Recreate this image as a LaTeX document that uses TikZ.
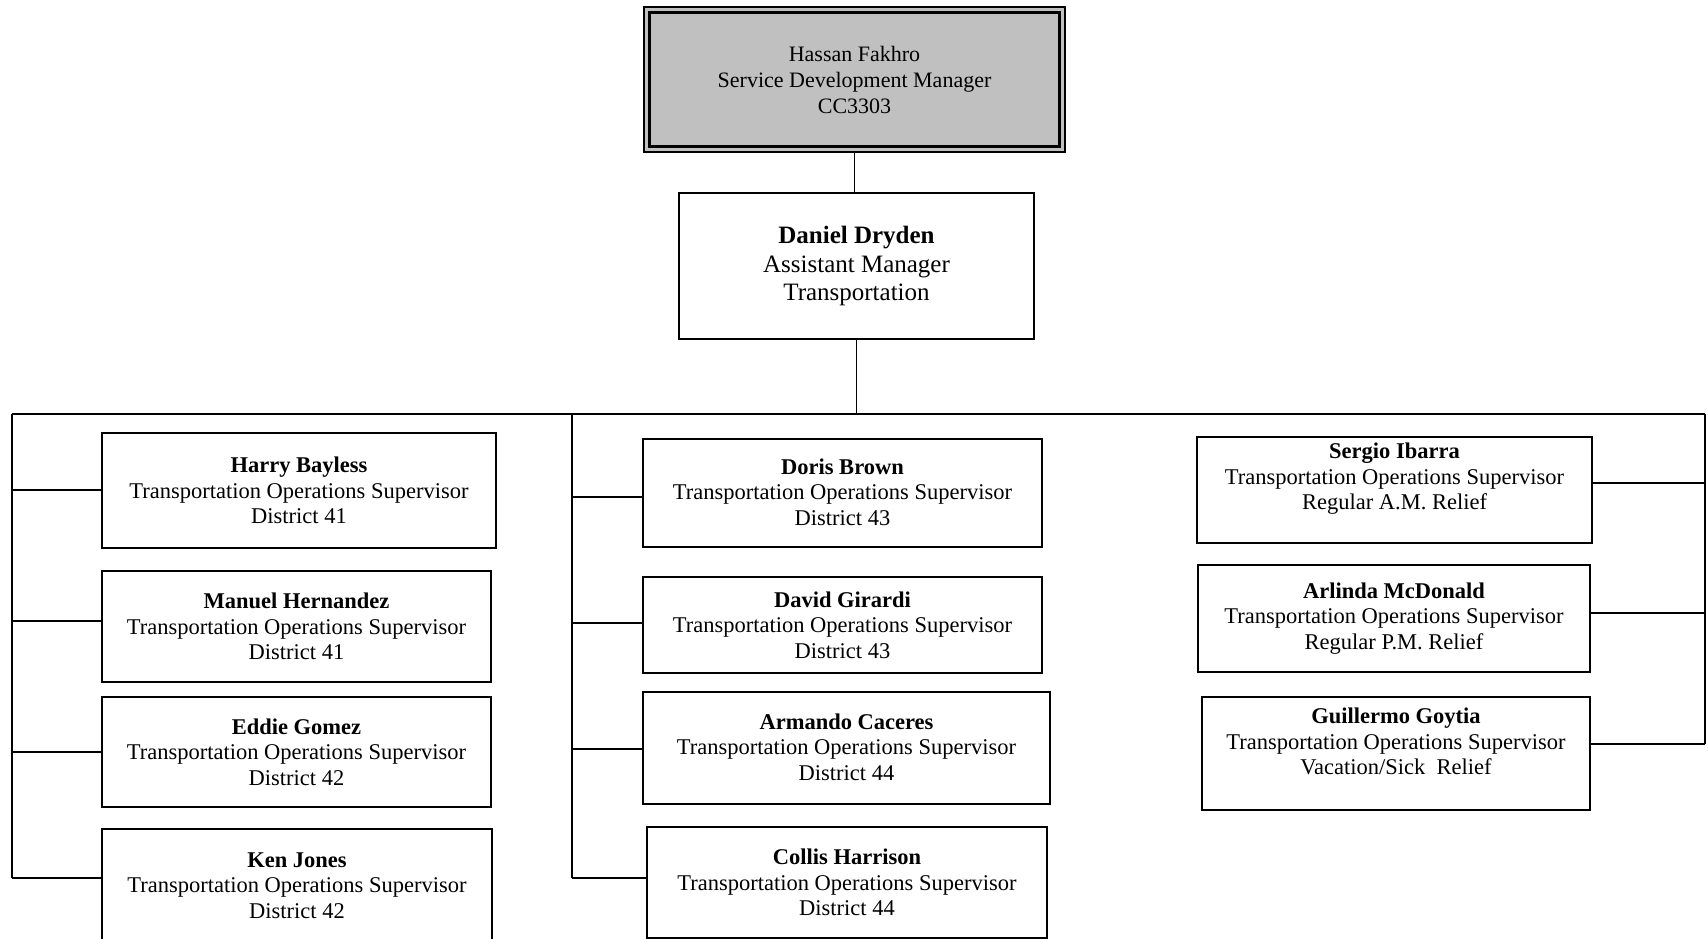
\documentclass[tikz,border=0pt]{standalone}
\usepackage{fontspec}
\setmainfont{Liberation Serif}
\usetikzlibrary{calc}
\definecolor{boxgray}{RGB}{192,192,192}
\tikzset{
  box/.style={draw=black, line width=1.6pt, fill=white, inner sep=0pt},
  txt/.style={align=center, inner sep=0pt, font=\fontsize{22.5}{25.5}\selectfont},
  toptxt/.style={align=center, inner sep=0pt, font=\fontsize{22}{26}\selectfont},
  dantxt/.style={align=center, inner sep=0pt, font=\fontsize{25}{28.5}\selectfont},
  conn/.style={draw=black, line width=1.6pt},
}
\newcommand\obox[5]{%
  \node[box, minimum width={#4-#2}, minimum height={#5-#3}] (#1) at ({(#2+#4)/2},{(#3+#5)/2}) {};}
\begin{document}
\begin{tikzpicture}[x=1pt,y=-1pt]
\useasboundingbox (0,0) rectangle (1708,939);
\clip (0,0) rectangle (1708,939);
% top box
\node[draw=black, line width=1.1pt, fill=boxgray, minimum width=421, minimum height=145, inner sep=0pt] (top) at (854.5,79.5) {};
\draw[line width=2.2pt] ([shift={(6,6)}]top.north west) rectangle ([shift={(-6,-6)}]top.south east);
\node[toptxt] (topt) at (top.center) {Hassan Fakhro\\Service Development Manager\\CC3303};
% Daniel
\obox{dan}{679}{193}{1034}{339}
\node[dantxt] (dant) at (dan.center) {\textbf{Daniel Dryden}\\Assistant Manager\\Transportation};
% left column
\obox{harry}{102}{433}{496}{548}
\obox{manuel}{102}{571}{491}{682}
\obox{eddie}{102}{697}{491}{807}
\obox{ken}{102}{829}{492}{942}
% middle column
\obox{doris}{643}{439}{1042}{547}
\obox{david}{643}{577}{1042}{673}
\obox{armando}{643}{692}{1050}{804}
\obox{collis}{647}{827}{1047}{938}
% right column
\obox{sergio}{1197}{437}{1592}{543}
\obox{arlinda}{1198}{565}{1590}{672}
\obox{guill}{1202}{697}{1590}{810}
% texts
\node[txt] (harryt) at (harry.center) {\textbf{Harry Bayless}\\Transportation Operations Supervisor\\District 41};
\node[txt] (manuelt) at (manuel.center) {\textbf{Manuel Hernandez}\\Transportation Operations Supervisor\\District 41};
\node[txt] (eddiet) at (eddie.center) {\textbf{Eddie Gomez}\\Transportation Operations Supervisor\\District 42};
\node[txt] (kent) at (ken.center) {\textbf{Ken Jones}\\Transportation Operations Supervisor\\District 42};
\node[txt] (dorist) at ($(doris.center)+(0,-1)$) {\textbf{Doris Brown}\\Transportation Operations Supervisor\\District 43};
\node[txt] (davidt) at (david.center) {\textbf{David Girardi}\\Transportation Operations Supervisor\\District 43};
\node[txt] (armandot) at ($(armando.center)+(0,-1)$) {\textbf{Armando Caceres}\\Transportation Operations Supervisor\\District 44};
\node[txt] (collist) at (collis.center) {\textbf{Collis Harrison}\\Transportation Operations Supervisor\\District 44};
\node[txt] (sergiot) at ($(sergio.center)+(0,-11)$) {\textbf{Sergio Ibarra}\\Transportation Operations Supervisor\\Regular A.M. Relief};
\node[txt] (arlindat) at (arlinda.center) {\textbf{Arlinda McDonald}\\Transportation Operations Supervisor\\Regular P.M. Relief};
\node[txt] (guillt) at ($(guill.center)+(0,-12)$) {\textbf{Guillermo Goytia}\\Transportation Operations Supervisor\\Vacation/Sick\ \ Relief};
% connectors
\coordinate (busL) at (12,414);
\coordinate (busM) at (572,414);
\coordinate (busR) at (1705,414);
\draw[conn] (top.south) -- (top.south |- dan.north);
\draw[conn] (dan.south) -- (dan.south |- busL);
\draw[conn] (busL) -- (busR);
\coordinate (lH) at (12,490);
\coordinate (lM) at (12,621);
\coordinate (lE) at (12,752);
\coordinate (lK) at (12,878);
\coordinate (mD) at (572,497);
\coordinate (mV) at (572,623);
\coordinate (mA) at (572,749);
\coordinate (mC) at (572,878);
\coordinate (rS) at (1705,483);
\coordinate (rA) at (1705,613);
\coordinate (rG) at (1705,744);
\draw[conn] (busL) -- (lK);
\draw[conn] (busM) -- (mC);
\draw[conn] (busR) -- (rG);
\draw[conn] (lH) -- (lH -| harry.west);
\draw[conn] (lM) -- (lM -| manuel.west);
\draw[conn] (lE) -- (lE -| eddie.west);
\draw[conn] (lK) -- (lK -| ken.west);
\draw[conn] (mD) -- (mD -| doris.west);
\draw[conn] (mV) -- (mV -| david.west);
\draw[conn] (mA) -- (mA -| armando.west);
\draw[conn] (mC) -- (mC -| collis.west);
\draw[conn] (rS) -- (rS -| sergio.east);
\draw[conn] (rA) -- (rA -| arlinda.east);
\draw[conn] (rG) -- (rG -| guill.east);
\end{tikzpicture}
\end{document}
